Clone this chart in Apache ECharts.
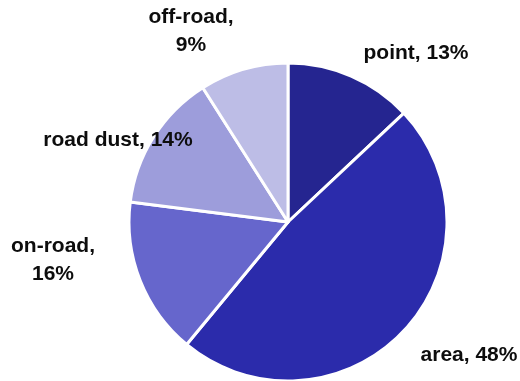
<!DOCTYPE html>
<html>
<head>
<meta charset="utf-8">
<script src="https://cdn.jsdelivr.net/npm/echarts@6/dist/echarts.min.js"></script>
<style>
  html, body { margin: 0; padding: 0; background: #fff; }
  #chart { width: 520px; height: 381px; }
</style>
</head>
<body>
<div id="chart"></div>
<script>
// Emission source shares (percent)
const categories = ['point', 'area', 'on-road', 'road dust', 'off-road'];
const shares = [13, 48, 16, 14, 9];
const sliceColors = ['#252590', '#2b2bab', '#6666cc', '#9d9ddb', '#bdbde6'];

// Label text: two-line labels for the narrow outer slices
const twoLine = { 'on-road': true, 'off-road': true };

// Label anchor points (px) around the pie
const labelAnchors = {
  'point': [416, 53],
  'area': [469, 355],
  'on-road': [53, 260],
  'road dust': [118, 140],
  'off-road': [191, 31]
};

const chart = echarts.init(document.getElementById('chart'), null, { renderer: 'canvas' });

chart.setOption({
  animation: false,
  series: [{
    type: 'pie',
    center: [288, 222],
    radius: 159,
    startAngle: 90,
    clockwise: true,
    itemStyle: { borderColor: '#ffffff', borderWidth: 3 },
    label: {
      show: true,
      position: 'outside',
      fontFamily: '"Liberation Sans", Arial, sans-serif',
      fontWeight: 'bold',
      fontSize: 21,
      lineHeight: 28,
      color: '#0d0d0d',
      align: 'center',
      overflow: 'none',
      width: 300,
      formatter: function (p) {
        return twoLine[p.name] ? p.name + ',\n' + p.value + '%' : p.name + ', ' + p.value + '%';
      }
    },
    labelLine: { show: false },
    labelLayout: function (p) {
      const a = labelAnchors[categories[p.dataIndex]];
      return { x: a[0], y: a[1], align: 'center', verticalAlign: 'middle' };
    },
    emphasis: { disabled: true },
    data: categories.map(function (c, i) {
      return { name: c, value: shares[i], itemStyle: { color: sliceColors[i] } };
    })
  }]
});
</script>
</body>
</html>
